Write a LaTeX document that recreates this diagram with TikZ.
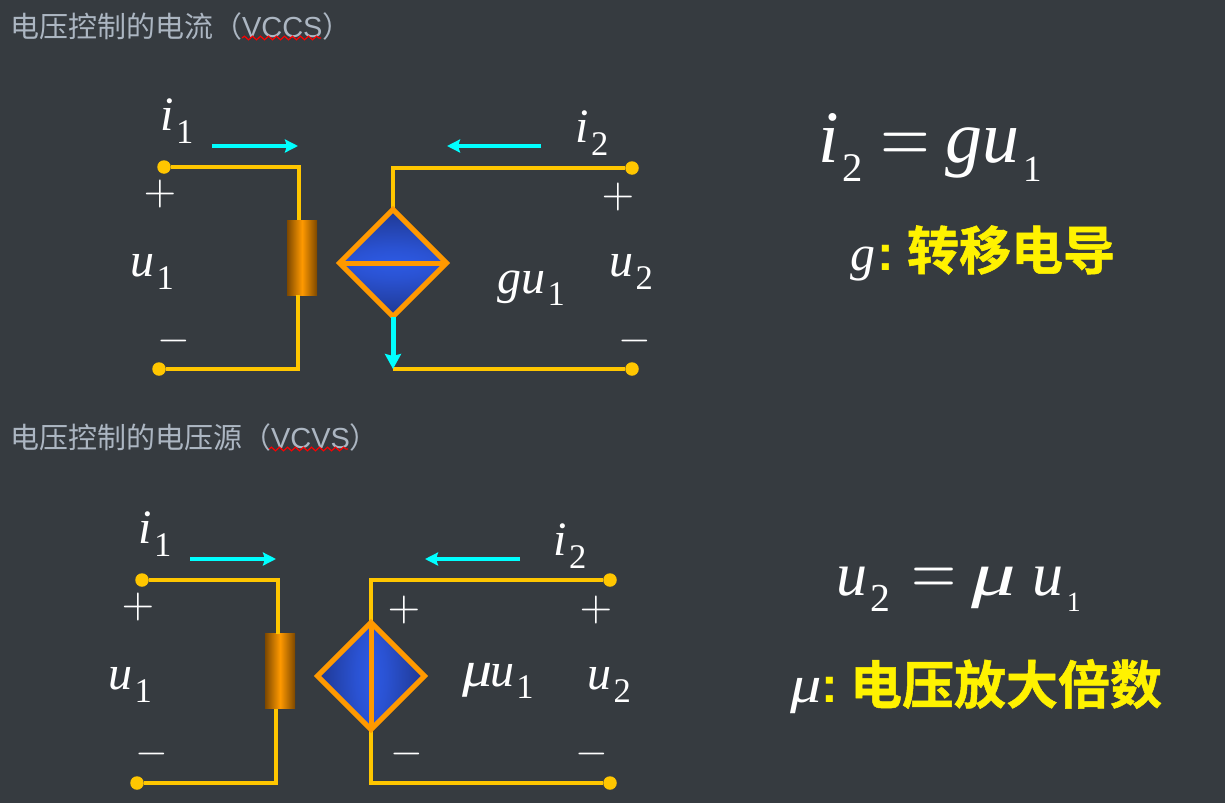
\documentclass[tikz,border=0pt]{standalone}
\usepackage{fontspec}
\setmainfont{Liberation Serif}
\newfontfamily\cjk[BoldFont={Noto Sans CJK SC Bold},BoldFeatures={FakeBold=1}]{Noto Sans CJK SC}
\newfontfamily\latin{Liberation Sans}
\usetikzlibrary{arrows.meta,shapes.geometric,decorations.pathmorphing}
\definecolor{slate}{RGB}{54,59,64}
\definecolor{wire}{RGB}{255,198,0}
\definecolor{rim}{RGB}{255,153,0}
\definecolor{flowc}{RGB}{0,255,255}
\definecolor{head}{RGB}{172,182,194}
\definecolor{resdark}{RGB}{125,72,0}
\definecolor{srcbright}{RGB}{50,102,255}
\definecolor{srcmid}{RGB}{42,82,210}
\definecolor{srcdark}{RGB}{26,44,115}
\pgfdeclareradialshading{srcup}{\pgfpoint{0bp}{-48bp}}{color(0bp)=(srcbright); color(26bp)=(srcmid); color(62bp)=(srcdark); color(110bp)=(srcdark)}
\pgfdeclareradialshading{srcdown}{\pgfpoint{0bp}{48bp}}{color(0bp)=(srcbright); color(26bp)=(srcmid); color(62bp)=(srcdark); color(110bp)=(srcdark)}
\pgfdeclareradialshading{srcleft}{\pgfpoint{48bp}{0bp}}{color(0bp)=(srcbright); color(26bp)=(srcmid); color(62bp)=(srcdark); color(110bp)=(srcdark)}
\pgfdeclareradialshading{srcright}{\pgfpoint{-48bp}{0bp}}{color(0bp)=(srcbright); color(26bp)=(srcmid); color(62bp)=(srcdark); color(110bp)=(srcdark)}
\newcommand{\lab}[3][.72]{\textit{#2}\kern.05em\raisebox{-.26em}{\scalebox{#1}{#3}}}
\newcommand{\bigmu}{\scalebox{1.25}[1.05]{\textit{μ}}}
\newcommand{\plussign}{\scalebox{4.2}{$+$}}
\newcommand{\minussign}{\scalebox{4.2}{$-$}}
\newcommand{\eqsign}[2]{{\fontsize{10}{10}\selectfont\scalebox{#1}[#2]{$=$}}}
\tikzset{
  every node/.style={inner sep=0pt, outer sep=0pt, text=white},
  wireline/.style={draw=wire, line width=4pt},
  term/.style={circle, fill=wire, minimum size=13.5pt},
  res/.style={rectangle, minimum width=30pt, minimum height=75pt, left color=resdark, right color=resdark, middle color=rim},
  srcbox/.style={diamond, minimum width=107pt, minimum height=107pt, aspect=1},
  rimline/.style={draw=rim, line width=5pt, line join=miter},
  flow/.style={draw=flowc, line width=4pt, -{Stealth[inset=2pt,length=13pt,width=13pt]}},
  title/.style={font=\fontsize{29}{29}\cjk, text=head, anchor=west},
  var/.style={font=\fontsize{48}{48}\selectfont},
  eqn/.style={font=\fontsize{74}{74}\selectfont, anchor=base west},
  eqnb/.style={font=\fontsize{62}{62}\selectfont, anchor=base west},
  coef/.style={font=\fontsize{50}{50}\selectfont, anchor=base west},
  termname/.style={font=\fontsize{52}{52}\cjk\bfseries, text=yellow, anchor=west},
  squiggle/.style={draw=red, line width=1.2pt, decorate, decoration={snake, amplitude=1.8pt, segment length=8pt}},
}
\begin{document}
\begin{tikzpicture}[x=1pt,y=-1pt]
  \useasboundingbox[fill=slate] (0,0) rectangle (1225,803);
  % VCCS
  \node[title] (vccstitle) at (10,26) {电压控制的电流（{\latin VCCS}）};
  \draw[squiggle] (242,38) -- (321,38);
  \node[term] (a1) at (164,167) {};
  \node[term] (b1) at (159,369) {};
  \node[term] (c1) at (632,168) {};
  \node[term] (e1) at (632,369) {};
  \node[res] (r1) at (302,257.5) {};
  \node[srcbox] (s1) at (393,263) {};
  \coordinate (p1) at (393,369);
  \draw[wireline] (a1) -- (299,167) -- (r1.north -| 299,0);
  \draw[wireline] (r1.south -| 298,0) -- (298,369) -- (b1);
  \draw[wireline] (c1) -- (393,168) -- (s1.north);
  \draw[wireline] (p1) -- (e1);
  \shade[shading=srcup] (s1.west) -- (s1.north) -- (s1.east) -- cycle;
  \shade[shading=srcdown] (s1.west) -- (s1.south) -- (s1.east) -- cycle;
  \draw[rimline] (s1.north) -- (s1.east) -- (s1.south) -- (s1.west) -- cycle;
  \draw[rimline] (s1.west) -- (s1.east);
  \draw[flow, line width=5pt, -{Stealth[inset=2pt,length=15pt,width=16pt]}] (s1.south) -- (p1);
  \coordinate (f1a) at (212,146); \coordinate (f1b) at (298,146);
  \coordinate (f2a) at (541,146); \coordinate (f2b) at (447,146);
  \draw[flow] (f1a) -- (f1b);
  \draw[flow] (f2a) -- (f2b);
  \node[var] at (177,121) {\lab{i}{1}};
  \node[var] at (592,133) {\lab{i}{2}};
  \node[var] at (152,272) {\lab{u}{1}};
  \node[var] at (631,272) {\lab{u}{2}};
  \node[var] at (531,288) {\lab{gu}{1}};
  \node (p11) at (160,194) {\plussign};
  \node (p12) at (618,197) {\plussign};
  \node (m11) at (174,341) {\minussign};
  \node (m12) at (635,341) {\minussign};
  \node[eqn] (eq1) at (818,162) {\lab[.55]{i}{2}\hspace{18pt}\eqsign{6.4}{8}\hspace{15pt}\lab[.5]{gu}{1}};
  \node[coef] (g) at (850,270) {\textit{g}\kern2pt\textcolor{yellow}{\bfseries\latin:}};
  \node[termname] (gname) at (907,250) {转移电导};
  % VCVS
  \node[title] (vcvstitle) at (10,437) {电压控制的电压源（{\latin VCVS}）};
  \draw[squiggle] (269,449) -- (348,449);
  \node[term] (a2) at (142,580) {};
  \node[term] (b2) at (137,783) {};
  \node[term] (c2) at (610,580) {};
  \node[term] (e2) at (610,783) {};
  \node[res] (r2) at (280,671) {};
  \node[srcbox] (s2) at (371,676) {};
  \draw[wireline] (a2) -- (278,580) -- (r2.north -| 278,0);
  \draw[wireline] (r2.south -| 276,0) -- (276,783) -- (b2);
  \draw[wireline] (c2) -- (371,580) -- (s2.north);
  \draw[wireline] (s2.south) -- (371,783) -- (e2);
  \shade[shading=srcleft] (s2.north) -- (s2.west) -- (s2.south) -- cycle;
  \shade[shading=srcright] (s2.north) -- (s2.east) -- (s2.south) -- cycle;
  \draw[rimline] (s2.north) -- (s2.east) -- (s2.south) -- (s2.west) -- cycle;
  \draw[rimline] (s2.north) -- (s2.south);
  \coordinate (f3a) at (190,559); \coordinate (f3b) at (276,559);
  \coordinate (f4a) at (520,559); \coordinate (f4b) at (425,559);
  \draw[flow] (f3a) -- (f3b);
  \draw[flow] (f4a) -- (f4b);
  \node[var] at (155,534) {\lab{i}{1}};
  \node[var] at (570,546) {\lab{i}{2}};
  \node[var] at (130,685) {\lab{u}{1}};
  \node[var] at (609,685) {\lab{u}{2}};
  \node[var] at (498,681) {\bigmu\kern-.05em\lab{u}{1}};
  \node (p21) at (138,607) {\plussign};
  \node (p22) at (404,610) {\plussign};
  \node (p23) at (596,610) {\plussign};
  \node (m21) at (152,754) {\minussign};
  \node (m22) at (407,754) {\minussign};
  \node (m23) at (592,754) {\minussign};
  \node[eqnb] (eq2) at (836,595) {\lab[.64]{u}{2}\hspace{22pt}\raisebox{1pt}{\eqsign{5.8}{7.2}}\hspace{14pt}\scalebox{1.15}[.95]{\bigmu}\hspace{17pt}\lab[.45]{u}{1}};
  \node[coef] (mu) at (790,702) {\bigmu\textcolor{yellow}{\bfseries\latin:}};
  \node[termname] (muname) at (850,684) {电压放大倍数};
\end{tikzpicture}
\end{document}
